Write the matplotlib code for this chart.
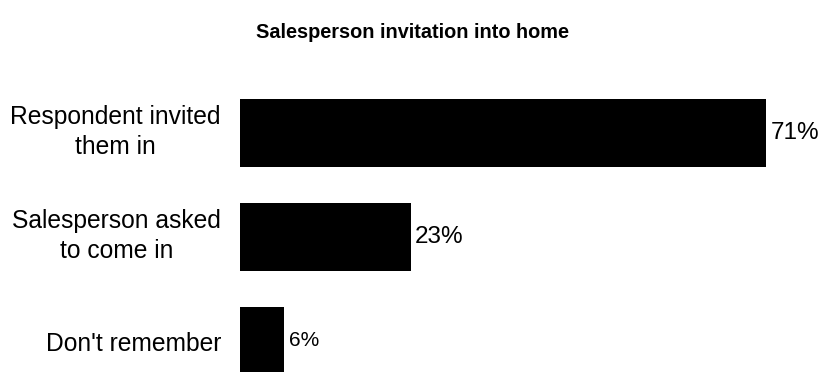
import matplotlib.pyplot as plt

plt.rcParams['font.family'] = ['Liberation Sans', 'DejaVu Sans']

categories = ['Respondent invited\nthem in', 'Salesperson asked\nto come in', "Don't remember"]
values = [71, 23, 6]
labels = ['71%', '23%', '6%']
label_sizes = [17.5, 17.5, 15]

fig = plt.figure(figsize=(8.25, 3.72), dpi=100)
# axes placed so the bars start at x=240px and rows sit 104px apart
ax = fig.add_axes([240 / 825, -21 / 372, 556 / 825, 312 / 372])

ypos = list(range(len(values)))
ax.barh(ypos, values, height=0.65, color='black')
ax.set_xlim(0, 75)
ax.set_ylim(2.5, -0.5)

for y, v, lab, fs in zip(ypos, values, labels, label_sizes):
    ax.text(v + 0.6, y, lab, va='center', ha='left', fontsize=fs)

# category names to the left of the bars, wrapped lines centred on each other
for y, cat in zip(ypos, categories):
    dy = 1 if '\n' in cat else -3
    ax.annotate(cat, (0, y), xytext=(-19, dy), textcoords='offset pixels',
                ha='right', va='center', multialignment='center',
                fontsize=17.7, linespacing=1.3, annotation_clip=False)

ax.set_xticks([])
ax.set_yticks([])
for s in ax.spines.values():
    s.set_visible(False)

fig.suptitle('Salesperson invitation into home', fontsize=14.3, fontweight='bold',
             y=1 - 33 / 372, va='center')

fig.savefig('out.png', dpi=100)
